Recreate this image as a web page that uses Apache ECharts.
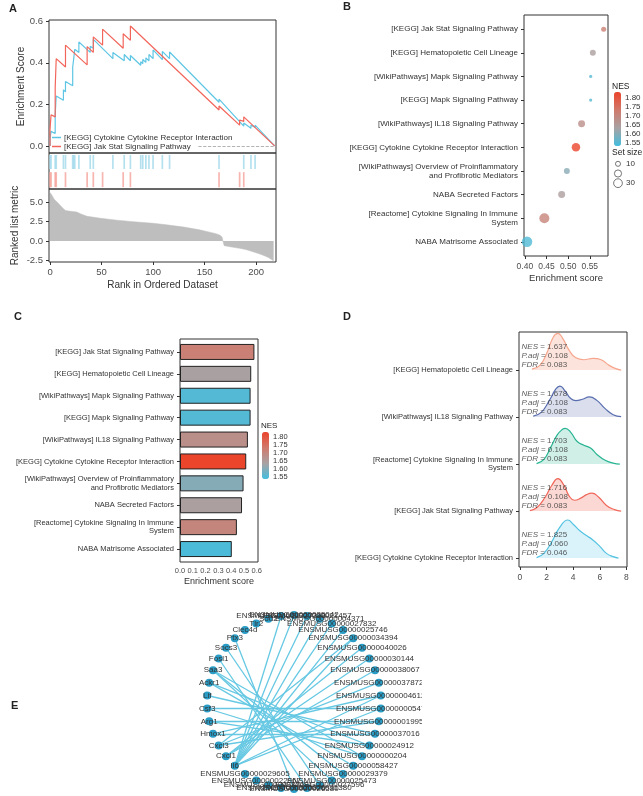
<!DOCTYPE html>
<html>
<head>
<meta charset="utf-8">
<script src="https://cdn.jsdelivr.net/npm/echarts@6.0.0/dist/echarts.min.js"></script>
<style>
  html, body { margin: 0; padding: 0; background: #fff; }
  #main { position: absolute; left: 0; top: 0; width: 643px; height: 796px; }
  #net { position: absolute; left: 0; top: 598px; width: 422px; height: 198px; }
</style>
</head>
<body>
<div id="main"></div>
<div id="net"></div>
<script>
const FONT = "'Liberation Sans', Arial, Helvetica, sans-serif";

// ---- panel A : GSEA running score ----
const esBlue = [[0,0],[0,0.035],[1,0.07],[5,0.06],[5,0.15],[6,0.24],[13,0.22],[13,0.27],[15,0.26],[15,0.31],
  [22,0.29],[22,0.38],[23,0.42],[24,0.465],[28,0.45],[28,0.50],[39,0.45],[39,0.48],[42,0.47],[42,0.513],
  [61,0.42],[61,0.45],[72,0.41],[72,0.44],[78,0.41],[78,0.435],[88,0.388],[88,0.405],[90,0.396],[90,0.416],
  [93,0.402],[93,0.424],[96,0.41],[96,0.44],[100,0.42],[100,0.462],[109,0.415],[109,0.455],[116,0.42],[116,0.452],
  [164,0.21],[164,0.225],[188,0.095],[188,0.11],[195,0.085],[195,0.10],[199,0.09],[199,0.10],[218,0]];
const esRed = [[0,0],[0,0.08],[1,0.15],[5,0.14],[5,0.28],[6,0.42],[15,0.38],[15,0.485],[36,0.39],[36,0.478],
  [42,0.45],[42,0.525],[51,0.485],[51,0.562],[71,0.47],[71,0.54],[78,0.508],[78,0.577],[164,0.173],[164,0.192],
  [184,0.10],[184,0.125],[188,0.118],[188,0.14],[218,0]];
const hitsBlue = [0,1,5,6,13,15,22,23,24,28,39,42,61,72,78,88,90,93,96,100,109,116,164,188,195,199];
const hitsRed = [0,1,5,6,15,36,42,51,71,78,164,184,188];
const rankedMetric = [[0,6.3],[2,5.9],[4,5.4],[8,4.9],[12,4.3],[15,3.95],[20,3.85],[26,3.75],[30,3.5],[36,3.2],
  [49,2.95],[65,2.7],[81,2.5],[100,2.3],[113,2.1],[130,1.8],[145,1.45],[155,1.15],[161,0.95],[165,0.75],
  [167,0.5],[168,-0.1],[169,-0.6],[175,-0.75],[184,-0.95],[190,-1.1],[197,-1.4],[203,-1.65],[208,-1.9],
  [212,-2.15],[215,-2.4],[217,-2.6]];
const esTicks = [0, 0.2, 0.4, 0.6];
const metricTicks = [-2.5, 0, 2.5, 5];
const rankTicks = [0, 50, 100, 150, 200];
const setBlue = '[KEGG] Cytokine Cytokine Receptor Interaction';
const setRed = '[KEGG] Jak Stat Signaling Pathway';

// ---- panels B and C : enriched pathways ----
const pathways = ['[KEGG] Jak Stat Signaling Pathway', '[KEGG] Hematopoietic Cell Lineage',
  '[WikiPathways] Mapk Signaling Pathway', '[KEGG] Mapk Signaling Pathway',
  '[WikiPathways] IL18 Signaling Pathway', '[KEGG] Cytokine Cytokine Receptor Interaction',
  '[WikiPathways] Overview of Proinflammatory\nand Profibrotic Mediators', 'NABA Secreted Factors',
  '[Reactome] Cytokine Signaling In Immune\nSystem', 'NABA Matrisome Associated'];
const enrichScore = [0.582, 0.557, 0.552, 0.552, 0.531, 0.518, 0.497, 0.485, 0.445, 0.405];
const nesValues = [1.716, 1.637, 1.553, 1.552, 1.678, 1.825, 1.600, 1.640, 1.703, 1.545];
const setSize = [10, 14, 4, 4, 19, 28, 14, 19, 39, 43];
const sizeLegend = [10, 20, 30];
const esAxisTicksB = [0.40, 0.45, 0.50, 0.55];
const esAxisTicksC = [0, 0.1, 0.2, 0.3, 0.4, 0.5, 0.6];
const nesTicks = [1.55, 1.60, 1.65, 1.70, 1.75, 1.80];
const nesColors = ['#41bedf', '#a8a2a3', '#d0796c', '#ec4329'];

// ---- panel D : ridges (bottom to top) ----
const ridgeNames = ['[KEGG] Cytokine Cytokine Receptor Interaction', '[KEGG] Jak Stat Signaling Pathway',
  '[Reactome] Cytokine Signaling In Immune\nSystem', '[WikiPathways] IL18 Signaling Pathway',
  '[KEGG] Hematopoietic Cell Lineage'];
const ridgeNES = ['1.825', '1.716', '1.703', '1.678', '1.637'];
const ridgePadj = ['0.060', '0.108', '0.108', '0.108', '0.108'];
const ridgeFDR = ['0.046', '0.083', '0.083', '0.083', '0.083'];
const ridgeDensity = [
  [[1.25,0.01],[1.8,0.1],[2.4,0.35],[3.0,0.66],[3.6,0.81],[4.0,0.72],[4.5,0.58],[5.0,0.48],[5.5,0.38],[6.0,0.25],[6.5,0.1],[7.0,0.03],[7.4,0]],
  [[0.75,0.01],[1.3,0.08],[1.9,0.3],[2.4,0.55],[2.85,0.69],[3.3,0.55],[3.7,0.32],[4.1,0.23],[4.6,0.28],[5.0,0.35],[5.4,0.38],[5.9,0.3],[6.5,0.12],[7.1,0.03],[7.6,0]],
  [[1.25,0.01],[1.8,0.1],[2.3,0.35],[2.8,0.62],[3.2,0.74],[3.4,0.76],[3.8,0.68],[4.3,0.48],[4.8,0.4],[5.3,0.34],[5.8,0.2],[6.4,0.08],[7.0,0.02],[7.5,0]],
  [[1.0,0.02],[1.6,0.1],[2.2,0.35],[2.7,0.6],[3.0,0.66],[3.4,0.55],[3.8,0.4],[4.2,0.35],[4.7,0.38],[5.2,0.43],[5.8,0.35],[6.4,0.18],[7.0,0.05],[7.6,0.01]],
  [[0.9,0.02],[1.5,0.1],[2.0,0.35],[2.5,0.7],[2.85,0.78],[3.2,0.68],[3.7,0.42],[4.2,0.26],[4.8,0.22],[5.5,0.25],[6.1,0.22],[6.7,0.1],[7.2,0.03],[7.6,0]]
];
const ridgeLine = ['#55c3e2', '#f0675a', '#28b493', '#5a6eaf', '#f6a68d'];
const ridgeFill = ['rgba(85,195,226,0.22)', 'rgba(240,103,90,0.26)', 'rgba(40,180,147,0.22)',
  'rgba(90,110,175,0.22)', 'rgba(246,166,141,0.3)'];
const ridgeTicks = [0, 1, 2, 3, 4];
const densTicks = [0, 2, 4, 6, 8];

// ---- panel E : network ----
const netNodes = ['ENSMUSG00000000547', 'ENSMUSG00000001995', 'ENSMUSG00000037016', 'ENSMUSG00000024912',
  'ENSMUSG00000000204', 'ENSMUSG00000058427', 'ENSMUSG00000029379', 'ENSMUSG00000025473',
  'ENSMUSG00000027596', 'ENSMUSG00000031380', 'ENSMUSG00000026580', 'ENSMUSG00000020826',
  'ENSMUSG00000032691', 'ENSMUSG00000022967', 'ENSMUSG00000029605', 'Il6', 'Cxcl1', 'Cxcl3', 'Hmox1',
  'Arg1', 'Csf3', 'Lif', 'Ackr1', 'Saa3', 'Fosl1', 'Socs3', 'Ptx3', 'Clec4d', 'Tlr2', 'Sod2',
  'ENSMUSG00000027398', 'ENSMUSG00000035042', 'ENSMUSG00000021457', 'ENSMUSG00000004371',
  'ENSMUSG00000027832', 'ENSMUSG00000025746', 'ENSMUSG00000034394', 'ENSMUSG00000040026',
  'ENSMUSG00000030144', 'ENSMUSG00000038067', 'ENSMUSG00000037872', 'ENSMUSG00000004612'];
const netLinks = [
  ['Il6','ENSMUSG00000027398'], ['Il6','ENSMUSG00000035042'], ['Il6','ENSMUSG00000021457'],
  ['Il6','ENSMUSG00000004371'], ['Il6','ENSMUSG00000027832'], ['Il6','ENSMUSG00000025746'],
  ['Il6','ENSMUSG00000034394'], ['Il6','ENSMUSG00000004612'], ['Il6','ENSMUSG00000000547'],
  ['Cxcl1','ENSMUSG00000040026'], ['Cxcl1','ENSMUSG00000030144'], ['Cxcl1','ENSMUSG00000038067'],
  ['Cxcl3','ENSMUSG00000037872'], ['Cxcl3','ENSMUSG00000034394'], ['Cxcl3','ENSMUSG00000001995'],
  ['Hmox1','ENSMUSG00000004612'], ['Hmox1','ENSMUSG00000037016'],
  ['Arg1','ENSMUSG00000001995'], ['Arg1','ENSMUSG00000024912'],
  ['Csf3','ENSMUSG00000000547'], ['Csf3','ENSMUSG00000000204'],
  ['Lif','ENSMUSG00000037016'],
  ['Ackr1','ENSMUSG00000024912'], ['Ackr1','ENSMUSG00000058427'],
  ['Saa3','ENSMUSG00000029379'], ['Saa3','ENSMUSG00000025473'], ['Saa3','ENSMUSG00000000204'],
  ['Fosl1','ENSMUSG00000031380'], ['Socs3','ENSMUSG00000027596'], ['Ptx3','ENSMUSG00000026580']
];

const dotSize = s => Math.sqrt(s) * 1.6;
const tickStyle = { length: 3, lineStyle: { color: '#333', width: 1 } };
const noLine = { show: false, onZero: false };
const lab = (extra) => Object.assign({ color: '#4d4d4d', fontSize: 8, fontFamily: FONT, margin: 6 }, extra);
const border = { show: true, borderColor: '#333', borderWidth: 1, backgroundColor: 'transparent' };
const g = (o, withBorder) => Object.assign({ outerBoundsMode: 'none', containLabel: false },
  withBorder ? border : { show: false }, o);
const hidden = (i) => ({ gridIndex: i, type: 'value', min: 0, max: 1, show: false, axisLine: noLine });
const txt = (t, left, top, size, bold) => ({ text: t, left: left, top: top, padding: 0,
  textStyle: { fontSize: size, fontWeight: bold ? 'bold' : 'normal', color: '#222', fontFamily: FONT } });

const chart = echarts.init(document.getElementById('main'));
const option = {
  animation: false,
  backgroundColor: '#fff',
  textStyle: { fontFamily: FONT },
  title: [
    txt('A', 9, 3, 11, true), txt('B', 343, 1, 11, true), txt('C', 14, 311, 11, true),
    txt('D', 343, 311, 11, true), txt('E', 11, 700, 11, true),
    txt('NES', 612, 82, 8.5), txt('Set size', 612, 148, 8.5), txt('NES', 261, 422, 8)
  ],
  grid: [
    g({ left: 49, top: 20, width: 227, height: 133 }, true),
    g({ left: 49, top: 153, width: 227, height: 36 }, true),
    g({ left: 49, top: 189, width: 227, height: 73 }, true),
    g({ left: 524, top: 15, width: 84, height: 241 }, true),
    g({ left: 614, top: 92, width: 7, height: 54 }),
    g({ left: 612, top: 159, width: 12, height: 29 }),
    g({ left: 180, top: 339, width: 78, height: 223 }, true),
    g({ left: 180, top: 341, width: 78, height: 219 }),
    g({ left: 262, top: 432, width: 7, height: 47 }),
    g({ left: 519, top: 332, width: 108, height: 235 }, true)
  ],
  xAxis: [
    { gridIndex: 0, type: 'value', min: -1, max: 219.3, show: false, axisLine: noLine },
    { gridIndex: 1, type: 'value', min: -1, max: 219.3, show: false, axisLine: noLine },
    { gridIndex: 2, type: 'value', min: -1, max: 219.3, axisLine: noLine, splitLine: { show: false },
      axisTick: Object.assign({ customValues: rankTicks }, tickStyle),
      axisLabel: lab({ customValues: rankTicks, fontSize: 9.5, margin: 5 }),
      name: 'Rank in Ordered Dataset', nameLocation: 'middle', nameGap: 18,
      nameTextStyle: { fontSize: 10, color: '#333' } },
    { gridIndex: 3, type: 'value', min: 0.398, max: 0.592, axisLine: noLine, splitLine: { show: false },
      axisTick: Object.assign({ customValues: esAxisTicksB }, tickStyle),
      axisLabel: lab({ customValues: esAxisTicksB, fontSize: 8.5, formatter: v => v.toFixed(2) }),
      name: 'Enrichment score', nameLocation: 'middle', nameGap: 17,
      nameTextStyle: { fontSize: 9.5, color: '#333' } },
    hidden(4),
    { gridIndex: 5, type: 'value', min: -1, max: 1, show: false, axisLine: noLine },
    hidden(6),
    { gridIndex: 7, type: 'value', min: 0, max: 0.61, axisLine: noLine, splitLine: { show: false },
      axisTick: Object.assign({ customValues: esAxisTicksC }, tickStyle),
      axisLabel: lab({ customValues: esAxisTicksC, fontSize: 7.5, margin: 7, formatter: v => v.toFixed(1) }),
      name: 'Enrichment score', nameLocation: 'middle', nameGap: 17,
      nameTextStyle: { fontSize: 9, color: '#333' } },
    hidden(8),
    { gridIndex: 9, type: 'value', min: -0.07, max: 8.04, axisLine: noLine, splitLine: { show: false },
      axisTick: Object.assign({ customValues: densTicks }, tickStyle),
      axisLabel: lab({ customValues: densTicks, fontSize: 8.5 }) }
  ],
  yAxis: [
    { gridIndex: 0, type: 'value', min: -0.034, max: 0.606, axisLine: noLine, splitLine: { show: false },
      axisTick: Object.assign({ show: true, customValues: esTicks }, tickStyle),
      axisLabel: lab({ customValues: esTicks, fontSize: 9.5, formatter: v => v.toFixed(1) }),
      name: 'Enrichment Score', nameLocation: 'middle', nameGap: 22,
      nameTextStyle: { fontSize: 10, color: '#333' } },
    { gridIndex: 1, type: 'value', min: 0, max: 2, show: false, axisLine: noLine },
    { gridIndex: 2, type: 'value', min: -2.72, max: 6.74, axisLine: noLine, splitLine: { show: false },
      axisTick: Object.assign({ show: true, customValues: metricTicks }, tickStyle),
      axisLabel: lab({ customValues: metricTicks, fontSize: 9.5, formatter: v => v.toFixed(1) }),
      name: 'Ranked list metric', nameLocation: 'middle', nameGap: 29,
      nameTextStyle: { fontSize: 10, color: '#333' } },
    { gridIndex: 3, type: 'value', inverse: true, min: -0.6, max: 9.6, axisLine: noLine,
      splitLine: { show: false },
      axisTick: Object.assign({ show: true, customValues: pathways.map((p, i) => i) }, tickStyle),
      axisLabel: lab({ customValues: pathways.map((p, i) => i), color: '#333', lineHeight: 9,
        formatter: v => pathways[Math.round(v)] }) },
    { gridIndex: 4, type: 'value', position: 'right', min: 1.53, max: 1.83, axisLine: noLine,
      splitLine: { show: false }, axisTick: { show: false },
      axisLabel: lab({ customValues: nesTicks, fontSize: 8, margin: 4, color: '#333', formatter: v => v.toFixed(2) }) },
    { gridIndex: 5, type: 'category', inverse: true, position: 'right', data: sizeLegend.map(String),
      axisLine: noLine, axisTick: { show: false },
      axisLabel: lab({ fontSize: 8, margin: 2, color: '#333' }) },
    hidden(6),
    { gridIndex: 7, type: 'category', inverse: true, data: pathways, axisLine: noLine,
      axisTick: Object.assign({ show: true, alignWithLabel: true }, tickStyle),
      axisLabel: lab({ color: '#333', fontSize: 7.5, lineHeight: 8.5 }) },
    { gridIndex: 8, type: 'value', position: 'right', min: 1.535, max: 1.83, axisLine: noLine,
      splitLine: { show: false }, axisTick: { show: false },
      axisLabel: lab({ customValues: nesTicks, fontSize: 7.5, margin: 4, color: '#333', formatter: v => v.toFixed(2) }) },
    { gridIndex: 9, type: 'value', min: -0.19, max: 4.81, axisLine: noLine, splitLine: { show: false },
      axisTick: Object.assign({ show: true, customValues: ridgeTicks }, tickStyle),
      axisLabel: lab({ customValues: ridgeTicks, color: '#333', fontSize: 7.5, lineHeight: 8.5,
        formatter: v => ridgeNames[Math.round(v)] }) }
  ],
  legend: {
    left: 52, top: 133, orient: 'vertical', padding: 0, itemGap: 0, itemWidth: 9, itemHeight: 1.5,
    icon: 'rect', data: [setBlue, setRed],
    textStyle: { fontSize: 8, color: '#333', lineHeight: 9, padding: [0, 0, 0, -2] }
  },
  visualMap: [
    { type: 'continuous', seriesIndex: 5, dimension: 2, min: 1.53, max: 1.83, left: 614, top: 92,
      itemWidth: 7, itemHeight: 54, padding: 0, calculable: false, text: null,
      inRange: { color: nesColors } },
    { type: 'continuous', seriesIndex: 7, dimension: 2, min: 1.535, max: 1.83, left: 262, top: 432,
      itemWidth: 7, itemHeight: 47, padding: 0, calculable: false, text: null,
      inRange: { color: nesColors } }
  ],
  series: [
    { name: setBlue, type: 'line', xAxisIndex: 0, yAxisIndex: 0, data: esBlue, showSymbol: false,
      color: '#5ec6e4', lineStyle: { width: 1.2 } },
    { name: setRed, type: 'line', xAxisIndex: 0, yAxisIndex: 0, data: esRed, showSymbol: false,
      color: '#f2655a', lineStyle: { width: 1.2 },
      markLine: { silent: true, symbol: ['none', 'none'], label: { show: false },
        lineStyle: { type: 'dashed', color: '#a0a0a0', width: 0.8 },
        data: [[{ coord: [144, 0] }, { coord: [219.3, 0] }]] } },
    { type: 'scatter', xAxisIndex: 1, yAxisIndex: 1, data: hitsBlue.map(r => [r, 1.5]),
      symbol: 'rect', symbolSize: [1.7, 14], itemStyle: { color: '#a2daeb' } },
    { type: 'scatter', xAxisIndex: 1, yAxisIndex: 1, data: hitsRed.map(r => [r, 0.52]),
      symbol: 'rect', symbolSize: [1.7, 15], itemStyle: { color: '#f5a39b' } },
    { type: 'line', xAxisIndex: 2, yAxisIndex: 2, data: rankedMetric, showSymbol: false,
      lineStyle: { width: 0.5, color: '#bebebe' }, areaStyle: { color: '#bebebe', opacity: 1 } },
    { type: 'scatter', xAxisIndex: 3, yAxisIndex: 3,
      data: enrichScore.map((e, i) => [e, i, nesValues[i], setSize[i]]),
      symbolSize: v => dotSize(v[3]) },
    { type: 'scatter', xAxisIndex: 5, yAxisIndex: 5,
      data: sizeLegend.map(s => [0, String(s), s]), symbolSize: v => dotSize(v[2]),
      itemStyle: { color: '#fff', borderColor: '#555', borderWidth: 1 } },
    { type: 'bar', xAxisIndex: 7, yAxisIndex: 7, barWidth: 16,
      data: enrichScore.map((e, i) => [e, pathways[i], nesValues[i]]), encode: { x: 0, y: 1 },
      itemStyle: { borderColor: '#222', borderWidth: 1 } }
  ]
};

// ridges: draw top ridge first so lower ones overlap it
for (let i = ridgeDensity.length - 1; i >= 0; i--) {
  option.series.push({
    type: 'line', xAxisIndex: 9, yAxisIndex: 9, smooth: 0.5, showSymbol: false,
    data: ridgeDensity[i].map(p => [p[0], i + p[1]]),
    lineStyle: { color: ridgeLine[i], width: 1.2 },
    areaStyle: { color: ridgeFill[i], opacity: 1, origin: i }
  });
}
option.series.push({
  type: 'scatter', xAxisIndex: 9, yAxisIndex: 9, symbolSize: 0, z: 10,
  data: ridgeNames.map((n, i) => [0.12, i + 0.3, i]),
  label: {
    show: true, position: 'right', distance: 0, fontSize: 8, lineHeight: 9, color: '#333',
    formatter: p => '{it|NES} = ' + ridgeNES[p.data[2]] + '\n{it|P.adj} = ' + ridgePadj[p.data[2]] +
      '\n{it|FDR} = ' + ridgeFDR[p.data[2]],
    rich: { it: { fontStyle: 'italic', fontSize: 8, lineHeight: 9, color: '#333' } }
  }
});
chart.setOption(option);

const netChart = echarts.init(document.getElementById('net'));
netChart.setOption({
  animation: false,
  series: [{
    type: 'graph', layout: 'circular', left: 207, top: 17, width: 174, height: 174,
    symbolSize: 8, roam: false,
    data: netNodes.map(n => ({ name: n })),
    links: netLinks.map(l => ({ source: l[0], target: l[1] })),
    itemStyle: { color: '#2a9dc6' },
    lineStyle: { color: '#66c8e3', width: 1.3, opacity: 1, curveness: 0 },
    label: { show: true, position: 'inside', fontSize: 8, color: '#333', fontFamily: FONT },
    emphasis: { disabled: true }
  }]
});
</script>
</body>
</html>
